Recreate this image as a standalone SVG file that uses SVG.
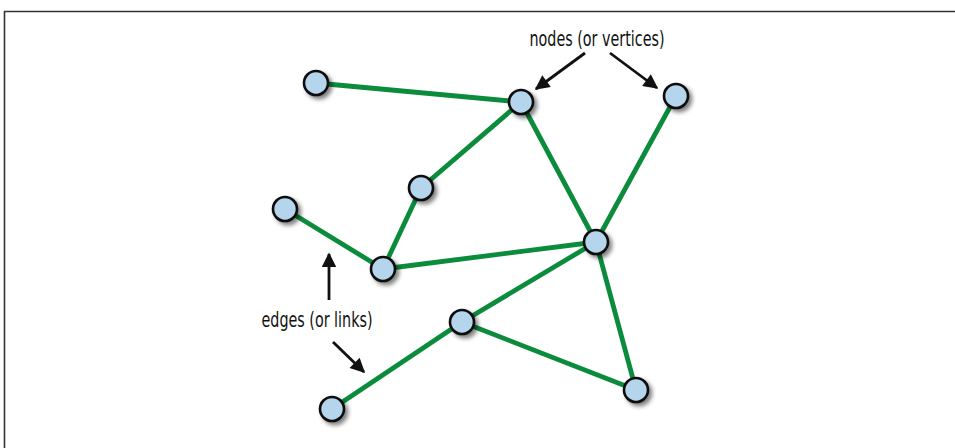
<svg xmlns="http://www.w3.org/2000/svg" width="955" height="448" viewBox="0 0 955 448">
<defs>
<style>
.edge{stroke:#0b8c3d;stroke-width:4.8;fill:none;stroke-linecap:round}
.node{fill:#b4d5eb;stroke:#111;stroke-width:2.6;filter:url(#sh)}
.ptr{stroke:#111;stroke-width:2.8;fill:none;marker-end:url(#ah)}
.lbl{font-family:"DejaVu Sans Condensed","DejaVu Sans",sans-serif;font-stretch:condensed;font-size:21px;fill:#111}
</style>
<filter id="sh" x="-50%" y="-50%" width="200%" height="200%">
<feGaussianBlur in="SourceAlpha" stdDeviation="2"/>
<feOffset dx="3" dy="3" result="b"/>
<feComponentTransfer><feFuncA type="linear" slope="0.5"/></feComponentTransfer>
<feMerge><feMergeNode/><feMergeNode in="SourceGraphic"/></feMerge>
</filter>
<marker id="ah" viewBox="0 0 10 10" refX="9" refY="5" markerWidth="6" markerHeight="5.2" orient="auto" markerUnits="strokeWidth">
<path d="M0,0 L10,5 L0,10 z" fill="#111"/>
</marker>
</defs>
<rect width="955" height="448" fill="#fff"/>
<path d="M4.5,448 V11.5 H955" fill="none" stroke="#333" stroke-width="1.6"/>
<g id="connectors">
<line class="edge" x1="316" y1="83" x2="521" y2="102"/>
<line class="edge" x1="521" y1="102" x2="421" y2="188"/>
<line class="edge" x1="521" y1="102" x2="596" y2="242"/>
<line class="edge" x1="676" y1="96" x2="596" y2="242"/>
<line class="edge" x1="421" y1="188" x2="383" y2="269"/>
<line class="edge" x1="285" y1="209" x2="383" y2="269"/>
<line class="edge" x1="383" y1="269" x2="596" y2="242"/>
<line class="edge" x1="596" y1="242" x2="462" y2="322"/>
<line class="edge" x1="596" y1="242" x2="636" y2="390"/>
<line class="edge" x1="462" y1="322" x2="636" y2="390"/>
<line class="edge" x1="462" y1="322" x2="332" y2="409"/>
<line class="ptr" x1="585" y1="53" x2="536" y2="89"/>
<line class="ptr" x1="610" y1="53" x2="657" y2="88"/>
<line class="ptr" x1="329" y1="300" x2="329" y2="254"/>
<line class="ptr" x1="333" y1="342" x2="364" y2="372"/>
</g>
<g id="n1"><circle class="node" cx="316" cy="83" r="12"/></g>
<g id="n2"><circle class="node" cx="521" cy="102" r="12"/></g>
<g id="n3"><circle class="node" cx="676" cy="96" r="12"/></g>
<g id="n4"><circle class="node" cx="421" cy="188" r="12"/></g>
<g id="n5"><circle class="node" cx="285" cy="209" r="12"/></g>
<g id="n6"><circle class="node" cx="596" cy="242" r="12"/></g>
<g id="n7"><circle class="node" cx="383" cy="269" r="12"/></g>
<g id="n8"><circle class="node" cx="462" cy="322" r="12"/></g>
<g id="n9"><circle class="node" cx="636" cy="390" r="12"/></g>
<g id="n10"><circle class="node" cx="332" cy="409" r="12"/></g>
<g id="labels">
<text class="lbl" x="597" y="46" text-anchor="middle" textLength="135" lengthAdjust="spacingAndGlyphs">nodes (or vertices)</text>
<text class="lbl" x="317" y="327" text-anchor="middle" textLength="111" lengthAdjust="spacingAndGlyphs">edges (or links)</text>
</g>
</svg>
